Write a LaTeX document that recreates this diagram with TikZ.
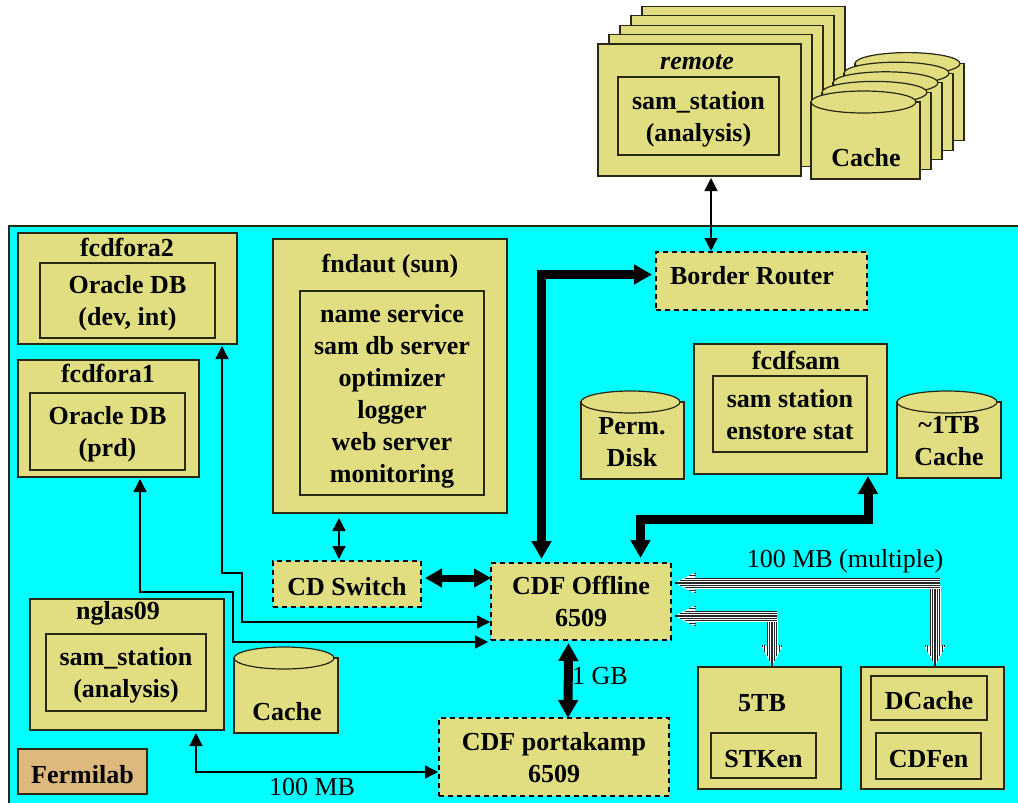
\documentclass[tikz,border=0pt]{standalone}
\usepackage{fontspec}
\setmainfont{Liberation Serif}
\usetikzlibrary{arrows.meta,calc}
\definecolor{box_fill}{RGB}{224,222,128}
\definecolor{box_line}{RGB}{40,40,20}
\definecolor{lab_fill}{RGB}{222,185,126}
\definecolor{site_fill}{RGB}{0,255,255}
\tikzset{
    dims/.style 2 args = {minimum width=#1, minimum height=#2},
    node_box/.style = {draw=box_line, fill=box_fill, line width=1.2pt, anchor=north west, inner sep=0pt, outer sep=0pt, font=\fontsize{26}{32}\selectfont\bfseries, execute at begin node={\rule{0pt}{24pt}}},
    node_dash/.style = {node_box, dash pattern=on 5pt off 4pt, draw=black},
    node_txt/.style = {inner sep=0pt, align=center, font=\fontsize{26}{32}\selectfont\bfseries},
    node_plain/.style = {inner sep=0pt, font=\fontsize{26}{32}\selectfont},
    link_thin/.style = {black, line width=1.3pt, {Triangle[length=13pt,width=13pt]}-{Triangle[length=13pt,width=13pt]}},
    link_mid/.style = {black, line width=7pt, {Triangle[length=17pt,width=18pt]}-{Triangle[length=17pt,width=18pt]}},
    link_fat/.style = {black, line width=9pt, {Triangle[length=18pt,width=19pt]}-{Triangle[length=18pt,width=19pt]}},
    stripe/.style = {black!85, line width=1.25pt}
}
% several lines, set a little low in their box
\newcommand{\lines}[1]{\vbox{\kern6pt\hbox{\begin{tabular}{@{}c@{}}#1\end{tabular}}}}
% left, axis y, width, bottom y
\newcommand{\drum}[4]{
    \draw[draw=box_line, fill=box_fill, line width=1.2pt] (#1,#2) -- (#1,#4) -- (#1+#3,#4) -- (#1+#3,#2) -- cycle;
    \draw[draw=box_line, fill=box_fill, line width=1.2pt] (#1+#3/2-2,#2) ellipse [x radius=#3/2-2, y radius=11];
}
% tip, far end
\newcommand{\stripearrow}[2]{
    \draw[white, line width=11pt] ($(#1)!10pt!(#2)$) -- (#2);
    \fill[white] (#1) -- ($($(#1)!20pt!(#2)$)!10.5pt!90:(#2)$) -- ($($(#1)!20pt!(#2)$)!10.5pt!-90:(#2)$) -- cycle;
    \foreach \ofs in {-4.8,-2.4,0,2.4,4.8}{
        \pgfmathsetmacro{\lead}{abs(\ofs)*2}
        \draw[stripe] ($($(#1)!\lead pt!(#2)$)!\ofs pt!90:(#2)$) -- ($(#2)!\ofs pt!-90:(#1)$);
    }
    \foreach \ofs in {-9.6,-7.2,7.2,9.6}{
        \pgfmathsetmacro{\lead}{abs(\ofs)*2}
        \draw[stripe] ($($(#1)!\lead pt!(#2)$)!\ofs pt!90:(#2)$) -- ($($(#1)!21pt!(#2)$)!\ofs pt!90:(#2)$);
    }
}
\begin{document}
\begin{tikzpicture}[x=1pt, y=-1pt]
    \useasboundingbox (0,0) rectangle (1018,803);
    \draw[fill=site_fill, line width=1.2pt, draw=box_line] (9,226) rectangle (1022,807);

    % remote stations
    \foreach \i in {4,3,2,1}{
        \node[node_box, dims={203}{132}] (remote_\i) at (598+11*\i,44-9.4*\i) {};
    }
    \node[node_box, dims={203}{132}] (remote) at (598,44) {};
    \node[node_txt, font=\fontsize{26}{32}\selectfont\bfseries\itshape] (remote_title) at (697,62) {remote};
    \node[node_box, dims={161}{78}] (remote_sam) at (618,77) {\lines{sam\_station\\(analysis)}};
    \foreach \i in {4,3,2,1,0}{
        \drum{811+11*\i}{102-9.6*\i}{109}{179-9.6*\i}
    }
    \node[node_txt] (remote_cache) at (866,158) {Cache};

    % oracle hosts
    \node[node_box, dims={219}{111}] (fcdfora2) at (18,233) {};
    \node[node_txt] (fcdfora2_title) at (127,247) {fcdfora2};
    \node[node_box, dims={175}{75}] (oracle_dev) at (40,263) {\lines{Oracle DB\\(dev, int)}};
    \node[node_box, dims={181}{117}] (fcdfora1) at (18,360) {};
    \node[node_txt] (fcdfora1_title) at (108,373) {fcdfora1};
    \node[node_box, dims={155}{77}] (oracle_prd) at (30,393) {\lines{Oracle DB\\(prd)}};

    \node[node_box, dims={234}{274}] (fndaut) at (273,239) {};
    \node[node_txt] (fndaut_title) at (390,266) {fndaut (sun)};
    \node[node_box, dims={184}{204}] (fndaut_list) at (300,291) {\lines{name service\\sam db server\\optimizer\\logger\\web server\\monitoring}};

    % switches
    \node[node_dash, dims={148}{46}] (cdswitch) at (273,561) {CD Switch};
    \node[node_dash, dims={180}{77}] (offline) at (491,563) {\lines{CDF Offline\\6509}};
    \node[node_dash, dims={230}{78}] (portakamp) at (439,718) {\lines{CDF portakamp\\6509}};
    \node[node_dash, dims={211}{58}] (router) at (656,252) {};
    \node[node_txt] (router_title) at (752,276) {Border Router};

    % analysis host
    \node[node_box, dims={194}{131}] (nglas09) at (30,599) {};
    \node[node_txt] (nglas09_title) at (118,613) {nglas09};
    \node[node_box, dims={160}{77}] (nglas_sam) at (46,634) {\lines{sam\_station\\(analysis)}};
    \drum{234}{658}{104}{733}
    \node[node_txt] (nglas_cache) at (287,712) {Cache};
    \node[node_box, fill=lab_fill, dims={129}{45}] (fermilab) at (18,749) {Fermilab};

    % sam station
    \node[node_box, dims={193}{130}] (fcdfsam) at (694,344) {};
    \node[node_txt] (fcdfsam_title) at (796,360) {fcdfsam};
    \node[node_box, dims={154}{76}] (fcdfsam_list) at (713,376) {\lines{sam station\\enstore stat}};
    \drum{581}{402}{103}{479}
    \node[node_txt] (perm_disk) at (632,442) {Perm.\\Disk};
    \drum{897}{402}{104}{478}
    \node[node_txt] (sam_cache) at (949,441) {\textasciitilde 1TB\\Cache};

    % tape and dcache
    \node[node_box, dims={143}{122}] (tape) at (698,667) {};
    \node[node_txt] (tape_title) at (762,703) {5TB};
    \node[node_box, dims={105}{45}] (stken) at (711,733) {STKen};
    \node[node_box, dims={143}{122}] (dcache_host) at (861,667) {};
    \node[node_box, dims={116}{44}] (dcache) at (871,676) {DCache};
    \node[node_box, dims={105}{46}] (cdfen) at (876,733) {CDFen};

    \node[node_plain] (multi_label) at (845,561) {100 MB (multiple)};
    \node[node_plain] (gb_label) at (600,676) {1 GB};
    \node[node_plain] (mb_label) at (312,787) {100 MB};

    % thin links
    \draw[link_thin] ([xshift=11.5,yshift=-2]remote.south) -- ([xshift=-50.5,yshift=1]router.north);
    \draw[link_thin] ([xshift=-51,yshift=-5]fndaut.south) -- ([xshift=-8,yshift=2]cdswitch.north);
    \draw[link_thin] ([xshift=94.5,yshift=-2]fcdfora2.south) -- ++(0,227) -- ++(20,0) |- ([xshift=-1,yshift=-20.5]offline.west);
    \draw[link_thin] ([xshift=31.5,yshift=-2]fcdfora1.south) -- ++(0,113) -- ++(93,0) |- ([xshift=-3,yshift=-40.5]offline.west);
    \draw[link_thin] ([xshift=69,yshift=-3]nglas09.south) |- ([xshift=-1,yshift=-15]portakamp.west);

    % fat links
    \draw[link_fat] ([xshift=-39.5,yshift=4]offline.north) |- ([xshift=-4,yshift=6.5]router.west);
    \draw[link_fat] ([xshift=77.5,yshift=-2]fcdfsam.south) -- ++(0,43) -| ([xshift=59.5,yshift=5]offline.north);
    \draw[link_fat] ([xshift=-12.5,yshift=-3]offline.south) -- ([xshift=14]portakamp.north);
    \draw[link_mid] ([xshift=4,yshift=6]cdswitch.east) -- ([yshift=23.5]offline.west);

    % striped links
    \coordinate (multi_tip) at ([xshift=4,yshift=18.5]offline.east);
    \coordinate (multi_end) at (940,583);
    \coordinate (multi_drop) at (935,586);
    \coordinate (multi_low) at ([xshift=2.5,yshift=1]dcache_host.north);
    \coordinate (tape_tip) at ([xshift=4,yshift=-14.5]offline.east);
    \coordinate (tape_end) at (777,616);
    \coordinate (tape_drop) at (772,619);
    \coordinate (tape_low) at ([xshift=2.5,yshift=1]tape.north);
    \stripearrow{multi_low}{multi_drop}
    \stripearrow{multi_tip}{multi_end}
    \stripearrow{tape_low}{tape_drop}
    \stripearrow{tape_tip}{tape_end}
\end{tikzpicture}
\end{document}
